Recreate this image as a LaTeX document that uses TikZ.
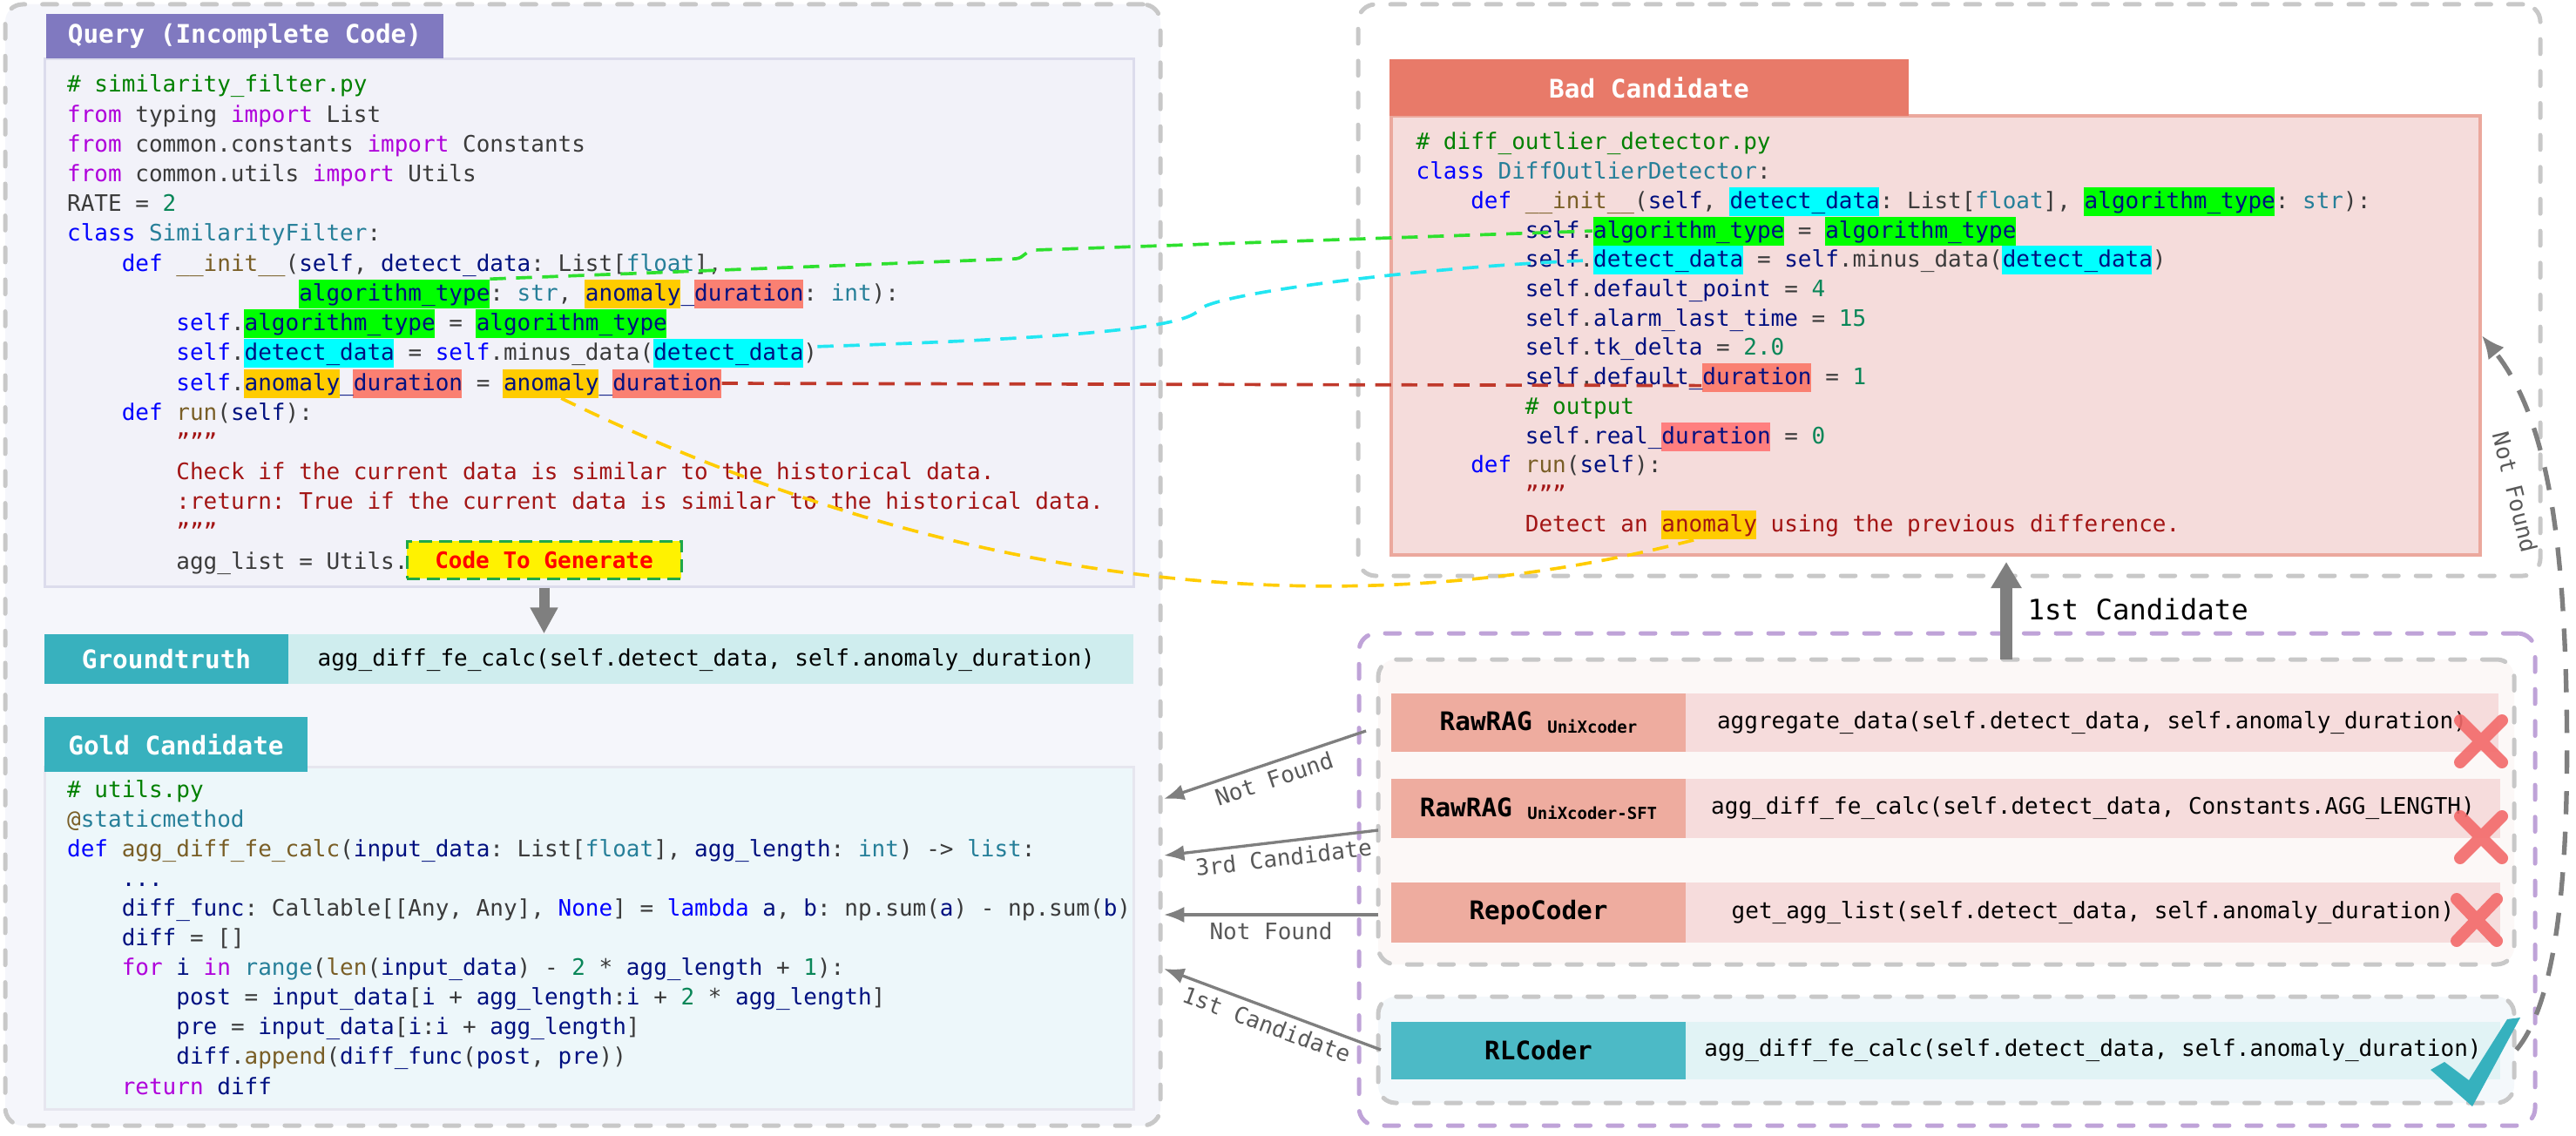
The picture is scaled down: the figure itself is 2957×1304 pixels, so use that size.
\documentclass[tikz,border=0pt]{standalone}
\usepackage{fontspec}
\setmainfont{DejaVu Sans Mono}
\usetikzlibrary{arrows.meta,fit,calc}
\frenchspacing
% syntax colours
\definecolor{ckw}{HTML}{AF00DB}
\definecolor{cbl}{HTML}{0000FF}
\definecolor{cty}{HTML}{267F99}
\definecolor{cfn}{HTML}{795E26}
\definecolor{cva}{HTML}{001080}
\definecolor{cnu}{HTML}{098658}
\definecolor{cst}{HTML}{A31515}
\definecolor{ccm}{HTML}{008000}
\definecolor{ctx}{HTML}{3B3B3B}
% highlight colours
\definecolor{hlgreen}{HTML}{00FF00}
\definecolor{hlcyan}{HTML}{00FFFF}
\definecolor{hlyellow}{HTML}{FFCC00}
\definecolor{hlsalmon}{HTML}{FA8072}
\definecolor{hlpink}{HTML}{FF7F7F}
% link colours
\definecolor{lkgreen}{HTML}{2EE02E}
\definecolor{lkcyan}{HTML}{22E6F2}
\definecolor{lkred}{HTML}{C0392B}
\definecolor{lkyellow}{HTML}{FFCC00}
% boxes
\definecolor{boxgray}{HTML}{C8C8C8}
\definecolor{purpledash}{HTML}{BFA3D8}
\definecolor{queryfill}{HTML}{F5F6FB}
\definecolor{qhead}{HTML}{8079C0}
\definecolor{qcodefill}{HTML}{F2F2F9}
\definecolor{qcodeline}{HTML}{DCDCEC}
\definecolor{gtteal}{HTML}{38B1BE}
\definecolor{gtfill}{HTML}{CFEDEE}
\definecolor{gcodefill}{HTML}{EDF7FA}
\definecolor{gcodeline}{HTML}{E6E6EF}
\definecolor{badhead}{HTML}{E87A69}
\definecolor{badfill}{HTML}{F5DCDB}
\definecolor{badline}{HTML}{EBA89D}
\definecolor{basefill}{HTML}{FCF8F7}
\definecolor{rlfill}{HTML}{F4F8FB}
\definecolor{rowsalmon}{HTML}{EEAC9F}
\definecolor{rowpink}{HTML}{F6DCDC}
\definecolor{rlteal}{HTML}{4CBAC6}
\definecolor{rlcodefill}{HTML}{E1F3F5}
\definecolor{arrowgray}{HTML}{7F7F7F}
\definecolor{labelgray}{HTML}{595959}
\definecolor{ctggreen}{HTML}{1FA84A}
\definecolor{xred}{HTML}{F36A6A}
\definecolor{checkteal}{HTML}{36B1BE}
% syntax macros
\newcommand\hK[1]{\textcolor{ckw}{#1}}
\newcommand\hB[1]{\textcolor{cbl}{#1}}
\newcommand\hT[1]{\textcolor{cty}{#1}}
\newcommand\hF[1]{\textcolor{cfn}{#1}}
\newcommand\hV[1]{\textcolor{cva}{#1}}
\newcommand\hN[1]{\textcolor{cnu}{#1}}
\newcommand\hS[1]{\textcolor{cst}{#1}}
\newcommand\hC[1]{\textcolor{ccm}{#1}}
% fonts
\newcommand\codefont{\fontsize{7.8pt}{9pt}\selectfont}
\newcommand\headfont{\fontsize{8.8pt}{10pt}\selectfont\bfseries}
\newcommand\subfont{\fontsize{5.7pt}{6pt}\selectfont\bfseries}
\newcommand\labfont{\fontsize{7.8pt}{9pt}\selectfont}
\newcommand\bigfont{\fontsize{9.7pt}{11pt}\selectfont}
% line / highlight placement (units: pixels of the reference)
\newcommand\qln[4]{\node[codeline] (#1) at ({76.5+#2*15.653},{106+#3*34.2}) {#4};}
\newcommand\gln[4]{\node[codeline] (#1) at ({76.5+#2*15.653},{915+#3*34.1}) {#4};}
\newcommand\bln[4]{\node[codeline] (#1) at ({1625+#2*15.653},{172+#3*33.7}) {#4};}
\newcommand\qhl[5]{\node[hlbox, fill=#2, fit={({76.5+#4*15.653},{81.5+#3*34.2}) ({76.5+#5*15.653},{114.5+#3*34.2})}] (#1) {};}
\newcommand\bhl[5]{\node[hlbox, fill=#2, fit={({1625+#4*15.653},{147.5+#3*33.7}) ({1625+#5*15.653},{180.5+#3*33.7})}] (#1) {};}
\tikzset{
  outerbox/.style={inner sep=0pt, draw=boxgray, line width=1.5pt, dash pattern=on 5pt off 6pt, line cap=round, rounded corners=6pt},
  plainbox/.style={inner sep=0pt},
  headtext/.style={inner sep=0pt, text=white, font=\headfont, anchor=center},
  codeline/.style={anchor=base west, inner sep=0pt, font=\codefont, text=ctx},
  hlbox/.style={inner sep=0pt, draw=none},
  rowlabtext/.style={inner sep=0pt, font=\headfont, text=black, anchor=center},
  rowcodetext/.style={inner sep=0pt, font=\codefont, text=black, anchor=center},
  ctgbox/.style={inner sep=0pt, fill=yellow, draw=ctggreen, line width=0.9pt, dash pattern=on 4.5pt off 2.4pt},
  link/.style={line width=1.1pt, dash pattern=on 5.5pt off 3.5pt},
  thinarrow/.style={draw=arrowgray, line width=1pt, -{Latex[length=7pt,width=5.5pt]}},
  bigarrow/.style={draw=arrowgray, line width=3.6pt, -{Triangle[length=9pt,width=9pt]}},
  dasharrow/.style={draw=arrowgray, line width=1.6pt, dash pattern=on 8pt off 6pt, -{Latex[length=8pt,width=7pt]}},
  edgelabel/.style={font=\labfont, text=labelgray, inner sep=2pt},
  xmark/.style={draw=xred, opacity=0.9, line width=4.2pt, line cap=round},
}
\begin{document}
\begin{tikzpicture}[x=0.3pt,y=-0.3pt]
\useasboundingbox (0,0) rectangle (2957,1304);
\fill[white] (0,0) rectangle (2957,1304);

% ---------- outer containers ----------
\node[outerbox, fill=queryfill, fit={(6,5) (1332,1292)}] (qouter) {};
\node[outerbox, fit={(1559,5) (2916,661)}] (bouter) {};
\node[outerbox, draw=purpledash, fit={(1560,727) (2910,1292)}] (router) {};
\node[outerbox, fill=basefill, fit={(1582,757) (2886,1107)}] (basebox) {};
\node[outerbox, fill=rlfill, fit={(1582,1144) (2886,1266)}] (rlbox) {};

% ---------- query ----------
\node[plainbox, fill=qcodefill, draw=qcodeline, line width=0.9pt, fit={(51,68) (1301,673)}] (qcode) {};
\node[plainbox, fill=qhead, fit={(53,16) (509,67)}] (qhead) {};
\node[headtext] (qheadT) at (qhead.center) {Query (Incomplete Code)};

\qhl{qAlgP}{hlgreen}{7}{17}{31}
\qhl{qAnoP}{hlyellow}{7}{38}{45}
\qhl{qDurP}{hlsalmon}{7}{46}{54}
\qhl{qAlg1}{hlgreen}{8}{13}{27}
\qhl{qAlg2}{hlgreen}{8}{30}{44}
\qhl{qDet1}{hlcyan}{9}{13}{24}
\qhl{qDet2}{hlcyan}{9}{43}{54}
\qhl{qAno1}{hlyellow}{10}{13}{20}
\qhl{qDur1}{hlsalmon}{10}{21}{29}
\qhl{qAno2}{hlyellow}{10}{32}{39}
\qhl{qDur2}{hlsalmon}{10}{40}{48}

\qln{q0}{0}{0}{\hC{\# similarity\_filter.py}}
\qln{q1}{0}{1}{\hK{from} typing \hK{import} List}
\qln{q2}{0}{2}{\hK{from} common.constants \hK{import} Constants}
\qln{q3}{0}{3}{\hK{from} common.utils \hK{import} Utils}
\qln{q4}{0}{4}{RATE = \hN{2}}
\qln{q5}{0}{5}{\hB{class} \hT{SimilarityFilter}:}
\qln{q6}{4}{6}{\hB{def} \hF{\_\_init\_\_}(\hV{self}, \hV{detect\_data}: List[\hT{float}],}
\qln{q7}{17}{7}{\hV{algorithm\_type}: \hT{str}, \hV{anomaly\_duration}: \hT{int}):}
\qln{q8}{8}{8}{\hB{self}.\hV{algorithm\_type} = \hV{algorithm\_type}}
\qln{q9}{8}{9}{\hB{self}.\hV{detect\_data} = \hB{self}.minus\_data(\hV{detect\_data})}
\qln{q10}{8}{10}{\hB{self}.\hV{anomaly\_duration} = \hV{anomaly\_duration}}
\qln{q11}{4}{11}{\hB{def} \hF{run}(\hV{self}):}
\qln{q12}{8}{12}{\hS{"""}}
\qln{q13}{8}{13}{\hS{Check if the current data is similar to the historical data.}}
\qln{q14}{8}{14}{\hS{:return: True if the current data is similar to the historical data.}}
\qln{q15}{8}{15}{\hS{"""}}
\qln{q16}{8}{16}{agg\_list = Utils.}
\node[ctgbox, fit={(467,621) (782,664)}] (ctg) {};
\node[inner sep=0pt, text=red, font=\codefont\bfseries, anchor=center] (ctgT) at (ctg.center) {Code To Generate};

% ---------- groundtruth ----------
\node[plainbox, fill=gtteal, fit={(51,728) (331,785)}] (gtlab) {};
\node[headtext] (gtlabT) at (gtlab.center) {Groundtruth};
\node[plainbox, fill=gtfill, fit={(331,728) (1301,785)}] (gtcode) {};
\node[codeline, text=black] (gttext) at (364,764) {agg\_diff\_fe\_calc(self.detect\_data, self.anomaly\_duration)};

% ---------- gold candidate ----------
\node[plainbox, fill=gcodefill, draw=gcodeline, line width=0.9pt, fit={(51,880) (1301,1273)}] (gcode) {};
\node[plainbox, fill=gtteal, fit={(51,823) (353,886)}] (ghead) {};
\node[headtext] (gheadT) at (ghead.center) {Gold Candidate};
\gln{g0}{0}{0}{\hC{\# utils.py}}
\gln{g1}{0}{1}{\hF{@}\hT{staticmethod}}
\gln{g2}{0}{2}{\hB{def} \hF{agg\_diff\_fe\_calc}(\hV{input\_data}: List[\hT{float}], \hV{agg\_length}: \hT{int}) -> \hT{list}:}
\gln{g3}{4}{3}{\hV{...}}
\gln{g4}{4}{4}{\hV{diff\_func}: Callable[[Any, Any], \hB{None}] = \hB{lambda} \hV{a}, \hV{b}: np.sum(\hV{a}) - np.sum(\hV{b})}
\gln{g5}{4}{5}{\hV{diff} = []}
\gln{g6}{4}{6}{\hK{for} \hV{i} \hK{in} \hT{range}(\hF{len}(\hV{input\_data}) - \hN{2} * \hV{agg\_length} + \hN{1}):}
\gln{g7}{8}{7}{\hV{post} = \hV{input\_data}[\hV{i} + \hV{agg\_length}:\hV{i} + \hN{2} * \hV{agg\_length}]}
\gln{g8}{8}{8}{\hV{pre} = \hV{input\_data}[\hV{i}:\hV{i} + \hV{agg\_length}]}
\gln{g9}{8}{9}{\hV{diff}.\hF{append}(\hV{diff\_func}(\hV{post}, \hV{pre}))}
\gln{g10}{4}{10}{\hK{return} \hV{diff}}

% ---------- bad candidate ----------
\node[plainbox, fill=badfill, draw=badline, line width=1pt, fit={(1597,133) (2847,637)}] (bcode) {};
\node[plainbox, fill=badhead, fit={(1595,68) (2191,133)}] (bhead) {};
\node[headtext] (bheadT) at (bhead.center) {Bad Candidate};

\bhl{bDetP}{hlcyan}{2}{23}{34}
\bhl{bAlgP}{hlgreen}{2}{49}{63}
\bhl{bAlg1}{hlgreen}{3}{13}{27}
\bhl{bAlg2}{hlgreen}{3}{30}{44}
\bhl{bDet1}{hlcyan}{4}{13}{24}
\bhl{bDet2}{hlcyan}{4}{43}{54}
\bhl{bDur1}{hlsalmon}{8}{21}{29}
\bhl{bDur2}{hlpink}{10}{18}{26}
\bhl{bAno}{hlyellow}{13}{18}{25}

\bln{b0}{0}{0}{\hC{\# diff\_outlier\_detector.py}}
\bln{b1}{0}{1}{\hB{class} \hT{DiffOutlierDetector}:}
\bln{b2}{4}{2}{\hB{def} \hF{\_\_init\_\_}(\hV{self}, \hV{detect\_data}: List[\hT{float}], \hV{algorithm\_type}: \hT{str}):}
\bln{b3}{8}{3}{\hV{self}.\hV{algorithm\_type} = \hV{algorithm\_type}}
\bln{b4}{8}{4}{\hV{self}.\hV{detect\_data} = \hV{self}.minus\_data(\hV{detect\_data})}
\bln{b5}{8}{5}{\hV{self}.\hV{default\_point} = \hN{4}}
\bln{b6}{8}{6}{\hV{self}.\hV{alarm\_last\_time} = \hN{15}}
\bln{b7}{8}{7}{\hV{self}.\hV{tk\_delta} = \hN{2.0}}
\bln{b8}{8}{8}{\hV{self}.\hV{default\_duration} = \hN{1}}
\bln{b9}{8}{9}{\hC{\# output}}
\bln{b10}{8}{10}{\hV{self}.\hV{real\_duration} = \hN{0}}
\bln{b11}{4}{11}{\hB{def} \hF{run}(\hV{self}):}
\bln{b12}{8}{12}{\hS{"""}}
\bln{b13}{8}{13}{\hS{Detect an anomaly using the previous difference.}}

% ---------- retrieval rows ----------
\node[plainbox, fill=rowsalmon, fit={(1597,796) (1935,863)}] (r1lab) {};
\node[rowlabtext] (r1labT) at (r1lab.center) {RawRAG \raisebox{-1pt}{\subfont UniXcoder}};
\node[plainbox, fill=rowpink, fit={(1935,796) (2868,863)}] (r1code) {};
\node[rowcodetext] (r1codeT) at (r1code.center) {aggregate\_data(self.detect\_data, self.anomaly\_duration)};
\node[plainbox, fill=rowsalmon, fit={(1597,894) (1935,962)}] (r2lab) {};
\node[rowlabtext] (r2labT) at (r2lab.center) {RawRAG \raisebox{-1pt}{\subfont UniXcoder-SFT}};
\node[plainbox, fill=rowpink, fit={(1935,894) (2870,962)}] (r2code) {};
\node[rowcodetext] (r2codeT) at (r2code.center) {agg\_diff\_fe\_calc(self.detect\_data, Constants.AGG\_LENGTH)};
\node[plainbox, fill=rowsalmon, fit={(1597,1013) (1935,1082)}] (r3lab) {};
\node[rowlabtext] (r3labT) at (r3lab.center) {RepoCoder};
\node[plainbox, fill=rowpink, fit={(1935,1013) (2870,1082)}] (r3code) {};
\node[rowcodetext] (r3codeT) at (r3code.center) {get\_agg\_list(self.detect\_data, self.anomaly\_duration)};
\node[plainbox, fill=rlteal, fit={(1597,1173) (1935,1239)}] (r4lab) {};
\node[rowlabtext] (r4labT) at (r4lab.center) {RLCoder};
\node[plainbox, fill=rlcodefill, fit={(1935,1173) (2870,1239)}] (r4code) {};
\node[rowcodetext] (r4codeT) at (r4code.center) {agg\_diff\_fe\_calc(self.detect\_data, self.anomaly\_duration)};

% ---------- marks ----------
\draw[xmark] (2824,827) -- (2872,875) (2824,875) -- (2872,827);
\draw[xmark] (2824,937) -- (2872,985) (2824,985) -- (2872,937);
\draw[xmark] (2820,1032) -- (2866,1080) (2820,1080) -- (2866,1032);
\fill[checkteal] (2790,1228) -- (2806,1219) -- (2834,1240) -- (2878,1170) -- (2893,1168) -- (2838,1270) -- cycle;

% ---------- arrows ----------
\draw[bigarrow] (ctg.south |- qcode.south) -- (ctg.south |- gtlab.north);

\coordinate (u0) at (2303,757);
\coordinate (u1) at (2303,645);
\draw[bigarrow, line width=4pt, -{Triangle[length=9pt,width=10pt]}] (u0) -- (u1);
\node[font=\bigfont, text=black, anchor=west, inner sep=0pt] (firstlab) at (2327,699) {1st Candidate};

\coordinate (s1) at (1568,839);  \coordinate (t1) at (1336,917);
\coordinate (s2) at (1582,953);  \coordinate (t2) at (1336,982);
\coordinate (s3) at (1582,1050); \coordinate (t3) at (1336,1050);
\coordinate (s4) at (1585,1205); \coordinate (t4) at (1336,1112);
\draw[thinarrow] (s1) -- node[edgelabel, sloped, below, pos=0.48] (l1) {Not Found} (t1);
\draw[thinarrow] (s2) -- node[edgelabel, sloped, below, pos=0.45] (l2) {3rd Candidate} (t2);
\draw[thinarrow] (s3) -- node[edgelabel, below, pos=0.5] (l3) {Not Found} (t3);
\draw[thinarrow] (s4) -- node[edgelabel, sloped, below, pos=0.5] (l4) {1st Candidate} (t4);

\draw[dasharrow] (rlbox.east) .. controls (2935,1150) and (2950,1000) .. (2946,800) .. controls (2942,620) and (2925,480) .. (bcode.east);
\node[edgelabel, rotate=-76] (nflab) at (2887,565) {Not Found};

% ---------- dashed correspondence links ----------
\draw[link, draw=lkgreen] (qAlgP.north east) -- (1166,297) .. controls (1176,296) and (1176,288) .. (1188,287) -- (bAlg1.west);
\draw[link, draw=lkcyan] ($(qDet2.east)+(16,-8)$) .. controls (1250,388) and (1360,375) .. (1376,356) .. controls (1392,336) and (1650,305) .. (bDet1.west);
\draw[link, draw=lkred] (qDur2.east) -- ($(bDur1.west)+(0,9)$);
\draw[link, draw=lkyellow] ($(qAno2.south)+(12,0)$) .. controls (1050,655) and (1500,735) .. ($(bAno.south)+(-15,0)$);
\end{tikzpicture}
\end{document}
